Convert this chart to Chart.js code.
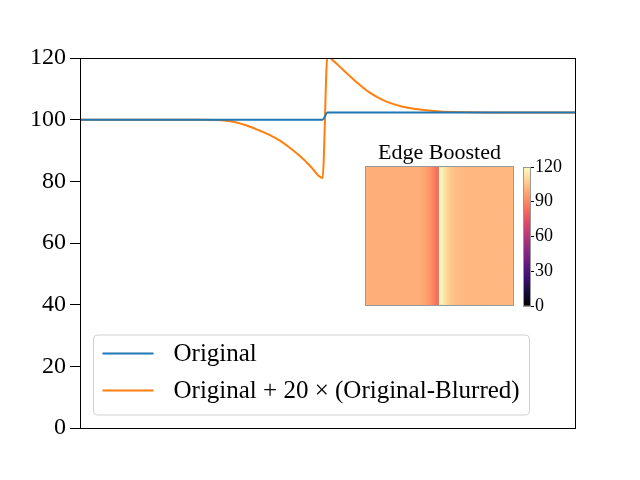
<!DOCTYPE html>
<html>
<head>
<meta charset="utf-8">
<script src="https://cdn.jsdelivr.net/npm/chart.js@4"></script>
<style>
  body { margin: 0; background: #fff; }
  #wrap { position: relative; width: 640px; height: 480px; }
  #wrap canvas { position: absolute; }
</style>
</head>
<body>
<div id="wrap">
  <canvas id="mainChart" width="640" height="480" style="left:0;top:0"></canvas>
  <canvas id="imgChart" width="170" height="170" style="left:355px;top:140px"></canvas>
  <canvas id="cbChart" width="70" height="180" style="left:515px;top:147px"></canvas>
</div>
<script>
// profile data (x in 0..100 across the axes)
const xPos = [0, 20, 24.2, 27.6, 30.9, 34.3, 36.3, 38.3, 40.3, 42.3, 44.4, 46.4, 48.9,
              49.9, 50.7, 52.2, 54.2, 56.2, 58.2, 60.2, 62.2, 64.9, 68.5, 71.9, 75.3, 82, 90, 100];
const original = [100, 100, 100, 100, 100, 100, 100, 100, 100, 100, 100, 100, 100,
                  102.3, 102.3, 102.3, 102.3, 102.3, 102.3, 102.3, 102.3, 102.3, 102.3, 102.3, 102.3, 102.3, 102.3, 102.3];
const boosted = [100, 100, 100, 99.9, 99.3, 97.7, 96.4, 95.0, 93.2, 90.9, 88.1, 85.0, 81.05,
                 121, 119.7, 117.45, 114.45, 111.55, 109.0, 107.1, 105.6, 104.3, 103.3, 102.7, 102.45, 102.3, 102.3, 102.3];
const seriesLabels = ['Original', 'Original + 20 \u00d7 (Original-Blurred)'];
const yTicks = [0, 20, 40, 60, 80, 100, 120];
const cbTicks = [0, 30, 60, 90, 120];
const magmaStops = ['#000004', '#140e36', '#3b0f70', '#641a80', '#8c2981', '#b73779',
                    '#de4968', '#f7705c', '#fe9f6d', '#fecf92', '#fcfdbf'];

const SERIF = "'Liberation Serif', 'DejaVu Serif', serif";

function hexRgb(h) { return [1, 3, 5].map(i => parseInt(h.substr(i, 2), 16)); }
function magma(t) {
    t = Math.max(0, Math.min(1, t));
    const p = t * (magmaStops.length - 1);
    const i = Math.min(Math.floor(p), magmaStops.length - 2);
    const f = p - i;
    const a = hexRgb(magmaStops[i]), b = hexRgb(magmaStops[i + 1]);
    const c = a.map((v, k) => Math.round(v + (b[k] - v) * f));
    return `rgb(${c[0]},${c[1]},${c[2]})`;
}
const cMin = cbTicks[0], cMax = cbTicks[cbTicks.length - 1];

// box around a chart area
const frame = {
    id: 'frame',
    afterDraw(chart, args, opts) {
        const { ctx, chartArea: a } = chart;
        ctx.save();
        ctx.strokeStyle = opts.color || '#000';
        ctx.lineWidth = 1;
        ctx.strokeRect(Math.round(a.left) + 0.5, Math.round(a.top) + 0.5,
            Math.round(a.right - a.left) - 1, Math.round(a.bottom - a.top));
        ctx.restore();
    }
};

// matplotlib-like legend box in lower left
const boxLegend = {
    id: 'boxLegend',
    afterDraw(chart) {
        const { ctx, chartArea: a } = chart;
        const x = a.left + 13.5, w = 436, h = 80, y = a.bottom - 13 - h;
        ctx.save();
        ctx.beginPath();
        ctx.roundRect(x, y, w, h, 4);
        ctx.fillStyle = 'rgba(255,255,255,0.8)';
        ctx.fill();
        ctx.strokeStyle = '#d0d0d0';
        ctx.lineWidth = 1;
        ctx.stroke();
        ctx.font = '25px ' + SERIF;
        ctx.textBaseline = 'middle';
        chart.data.datasets.forEach((ds, i) => {
            const ly = y + 18.5 + i * 37;
            ctx.strokeStyle = ds.borderColor;
            ctx.lineWidth = 2;
            ctx.beginPath();
            ctx.moveTo(x + 9, ly);
            ctx.lineTo(x + 60, ly);
            ctx.stroke();
            ctx.fillStyle = '#000';
            ctx.fillText(ds.label, x + 80, ly + 1);
        });
        ctx.restore();
    }
};

new Chart(document.getElementById('mainChart'), {
    type: 'line',
    data: {
        datasets: [
            { label: seriesLabels[0], data: xPos.map((x, i) => ({ x, y: original[i] })), borderColor: '#1f77b4' },
            { label: seriesLabels[1], data: xPos.map((x, i) => ({ x, y: boosted[i] })), borderColor: '#ff7f0e' }
        ]
    },
    options: {
        responsive: false, animation: false, devicePixelRatio: 1,
        layout: { padding: { top: 58, right: 64, bottom: 52, left: 0 } },
        elements: {
            line: { borderWidth: 2, cubicInterpolationMode: 'monotone' },
            point: { radius: 0 }
        },
        plugins: { legend: { display: false }, tooltip: { enabled: false }, frame: { color: '#000' } },
        scales: {
            x: { type: 'linear', min: xPos[0], max: xPos[xPos.length - 1], display: false },
            y: {
                min: yTicks[0], max: yTicks[yTicks.length - 1],
                afterFit: s => { s.width = 80; },
                afterBuildTicks: s => { s.ticks = yTicks.map(v => ({ value: v })); },
                ticks: { color: '#000', padding: 4, font: { family: SERIF, size: 24 } },
                grid: { drawOnChartArea: false, tickLength: 10, color: '#000' },
                border: { color: '#000' }
            }
        }
    },
    plugins: [frame, boxLegend]
});

// inset image: one bar filled with a gradient following the boosted profile
new Chart(document.getElementById('imgChart'), {
    type: 'bar',
    data: {
        labels: ['img'],
        datasets: [{
            data: [1],
            barPercentage: 1, categoryPercentage: 1,
            backgroundColor: ctx => {
                const chart = ctx.chart, a = chart.chartArea, xp = chart.scales.xp;
                if (!a || !xp) return magma(boosted[0] / cMax);
                const g = chart.ctx.createLinearGradient(a.left, 0, a.right, 0);
                xPos.forEach((x, i) => {
                    const f = (xp.getPixelForValue(x) - a.left) / (a.right - a.left);
                    g.addColorStop(Math.max(0, Math.min(1, f)), magma((boosted[i] - cMin) / (cMax - cMin)));
                });
                return g;
            }
        }]
    },
    options: {
        responsive: false, animation: false, devicePixelRatio: 1,
        layout: { padding: { top: 0, right: 11, bottom: 5, left: 10 } },
        plugins: {
            legend: { display: false }, tooltip: { enabled: false },
            title: { display: true, text: 'Edge Boosted', color: '#000', padding: 0,
                     font: { family: SERIF, size: 22, weight: 'normal', lineHeight: 1.2 } },
            frame: { color: '#999' }
        },
        scales: {
            x: { display: false },
            xp: { type: 'linear', axis: 'x', min: xPos[0], max: xPos[xPos.length - 1], display: false },
            y: { min: 0, max: 1, display: false }
        }
    },
    plugins: [frame]
});

// colorbar
new Chart(document.getElementById('cbChart'), {
    type: 'bar',
    data: {
        labels: ['cb'],
        datasets: [{
            data: [cMax],
            barPercentage: 1, categoryPercentage: 1,
            backgroundColor: ctx => {
                const chart = ctx.chart, y = chart.scales.y;
                if (!chart.chartArea || !y) return magma(0.5);
                const g = chart.ctx.createLinearGradient(0, y.getPixelForValue(cMin), 0, y.getPixelForValue(cMax));
                magmaStops.forEach((c, i) => g.addColorStop(i / (magmaStops.length - 1), c));
                return g;
            }
        }]
    },
    options: {
        responsive: false, animation: false, devicePixelRatio: 1,
        layout: { padding: { top: 20, right: 0, bottom: 21, left: 8 } },
        plugins: { legend: { display: false }, tooltip: { enabled: false }, frame: { color: '#999' } },
        scales: {
            x: { display: false },
            y: {
                position: 'right', min: cMin, max: cMax,
                afterFit: s => { s.width = 54; },
                afterBuildTicks: s => { s.ticks = cbTicks.map(v => ({ value: v })); },
                ticks: { color: '#000', padding: 1, font: { family: SERIF, size: 18 } },
                grid: { drawOnChartArea: false, tickLength: 3, color: '#000' },
                border: { display: false }
            }
        }
    },
    plugins: [frame]
});
</script>
</body>
</html>
